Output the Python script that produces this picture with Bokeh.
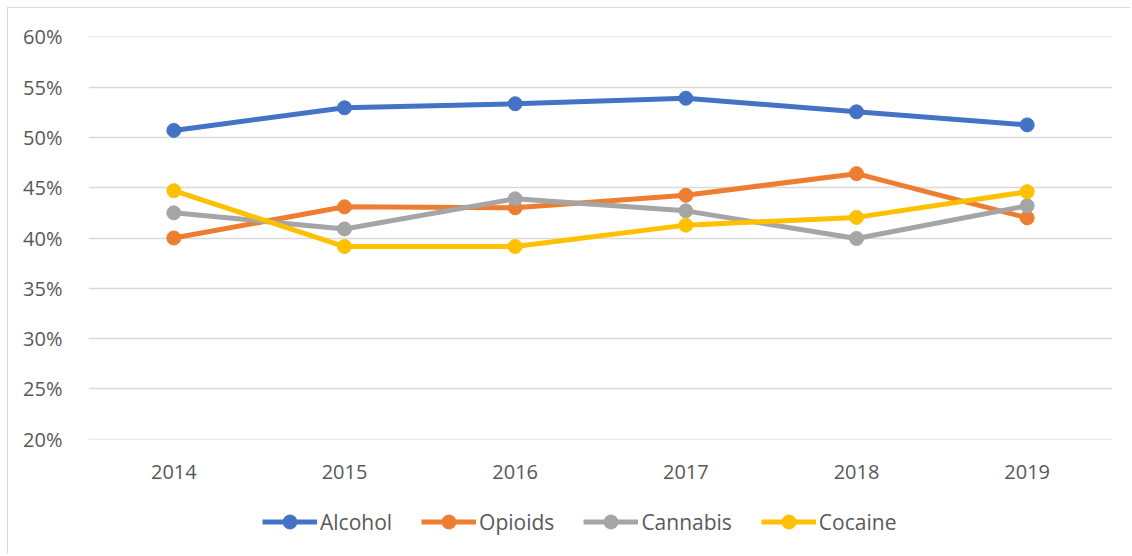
from bokeh.plotting import figure
from bokeh.layouts import column
from bokeh.models import FactorRange, Range1d, NumeralTickFormatter, Legend, LegendItem, FixedTicker
from bokeh.embed import file_html
from bokeh.resources import INLINE

years = ["2014", "2015", "2016", "2017", "2018", "2019"]
alcohol = [0.507, 0.5295, 0.5335, 0.539, 0.5255, 0.5125]
opioids = [0.400, 0.431, 0.430, 0.4425, 0.464, 0.420]
cannabis = [0.425, 0.409, 0.439, 0.427, 0.3995, 0.432]
cocaine = [0.447, 0.3915, 0.3915, 0.4128, 0.4205, 0.446]
y_ticks = [0.20, 0.25, 0.30, 0.35, 0.40, 0.45, 0.50, 0.55, 0.60]

series = [
    ("Alcohol", alcohol, "#4472C4"),
    ("Opioids", opioids, "#ED7D31"),
    ("Cannabis", cannabis, "#A5A5A5"),
    ("Cocaine", cocaine, "#FFC000"),
]

FONT = "Open Sans"
TXT = "#595959"

p = figure(width=1122, height=480, x_range=FactorRange(factors=years),
           y_range=Range1d(0.1996, 0.6004), output_backend="svg", toolbar_location=None,
           min_border_left=80, min_border_right=18, min_border_top=28, min_border_bottom=49)
p.outline_line_color = None
p.background_fill_color = "white"
p.border_fill_color = "white"

p.xgrid.grid_line_color = None
p.ygrid.grid_line_color = "#d9d9d9"
p.ygrid.grid_line_width = 1.3

p.yaxis.ticker = FixedTicker(ticks=y_ticks)
p.yaxis.formatter = NumeralTickFormatter(format="0%")
for ax in (p.xaxis[0], p.yaxis[0]):
    ax.axis_line_color = None
    ax.major_tick_line_color = None
    ax.minor_tick_line_color = None
    ax.major_label_text_font = FONT
    ax.major_label_text_font_size = "20px"
    ax.major_label_text_color = TXT
p.xaxis.major_label_standoff = 19
p.yaxis.major_label_standoff = 20

# legend strip below the chart (its series sit outside its visible y range)
pl = figure(width=1122, height=66, output_backend="svg", toolbar_location=None,
            x_range=FactorRange(factors=years), y_range=Range1d(-2, -1),
            x_axis_type=None, y_axis_type=None,
            min_border_left=0, min_border_right=0, min_border_top=0, min_border_bottom=0)
pl.outline_line_color = None
pl.background_fill_color = "white"
pl.border_fill_color = "white"

items = []
for name, vals, col in series:
    p.line(x=years, y=vals, line_color=col, line_width=5)
    p.scatter(x=years, y=vals, size=14, fill_color=col, line_color=col)
    l1 = pl.line(x=years, y=vals, line_color=col, line_width=5)
    l2 = pl.scatter(x=years, y=vals, size=14, fill_color=col, line_color=col)
    items.append(LegendItem(label=name, renderers=[l1, l2]))

legend = Legend(items=items, orientation="horizontal", location=(174, 15),
                label_text_font=FONT, label_text_font_size="21px", label_text_color=TXT,
                glyph_width=55, glyph_height=35, label_standoff=3, spacing=29,
                padding=0, margin=0, border_line_color=None, background_fill_alpha=0)
pl.add_layout(legend, "center")

layout = column(p, pl, spacing=0)
layout.styles = {"margin-left": "7px", "margin-top": "7px",
                 "border-left": "1px solid #d9d9d9", "border-top": "1px solid #d9d9d9"}

open("out.html", "w").write(file_html(layout, INLINE))
